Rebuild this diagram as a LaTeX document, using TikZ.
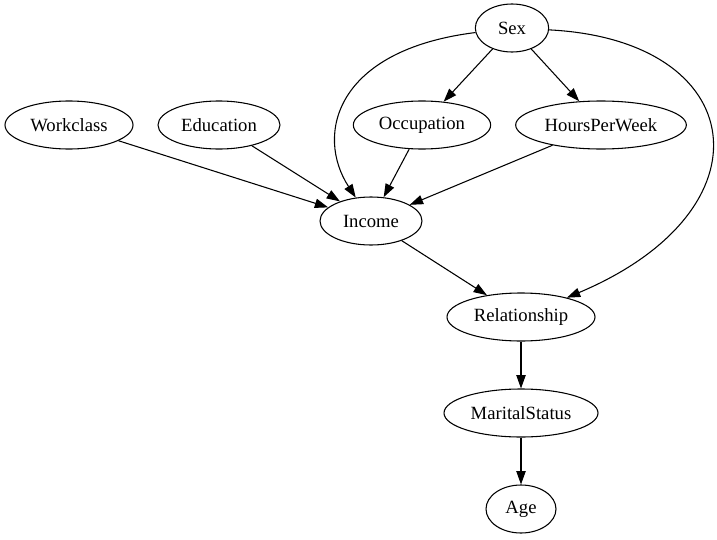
\documentclass[tikz,border=0pt]{standalone}
\usepackage{fontspec}
\setmainfont{Liberation Serif}
\usetikzlibrary{positioning,shapes.geometric,arrows.meta}

\begin{document}
\begin{tikzpicture}[x=0.75pt, y=-0.75pt,
  var/.style={draw, ellipse, line width=0.8pt, minimum height=36pt, inner sep=1pt, font=\fontsize{14}{16}\selectfont},
  edge/.style={-{Triangle[length=10pt, width=7pt]}, line width=0.8pt}]
\useasboundingbox (0,0) rectangle (717,539);
\node[var, minimum width=55pt] (sex) at (512,28) {Sex};
\node[var, minimum width=96pt] (workclass) at (69,125) {Workclass};
\node[var, minimum width=91.5pt] (education) at (219,125) {Education};
\node[var, minimum width=103pt] (occupation) at (422,125) {Occupation};
\node[var, minimum width=128pt] (hours) at (601,125) {HoursPerWeek};
\node[var, minimum width=76.5pt] (income) at (371,221) {Income};
\node[var, minimum width=111pt] (relationship) at (521,317) {Relationship};
\node[var, minimum width=115.5pt] (marital) at (521,413) {MaritalStatus};
\node[var, minimum width=52.5pt] (age) at (521,509) {Age};
\draw[edge] (sex) .. controls (335,50) and (315,135) .. (income);
\draw[edge] (sex) -- (occupation);
\draw[edge] (sex) -- (hours);
\draw[edge] (sex) .. controls (750,40) and (775,210) .. (relationship);
\draw[edge] (workclass) -- (income);
\draw[edge] (education) -- (income);
\draw[edge] (occupation) -- (income);
\draw[edge] (hours) -- (income);
\draw[edge] (income) -- (relationship);
\draw[edge] (relationship) -- (marital);
\draw[edge] (marital) -- (age);
\end{tikzpicture}
\end{document}
